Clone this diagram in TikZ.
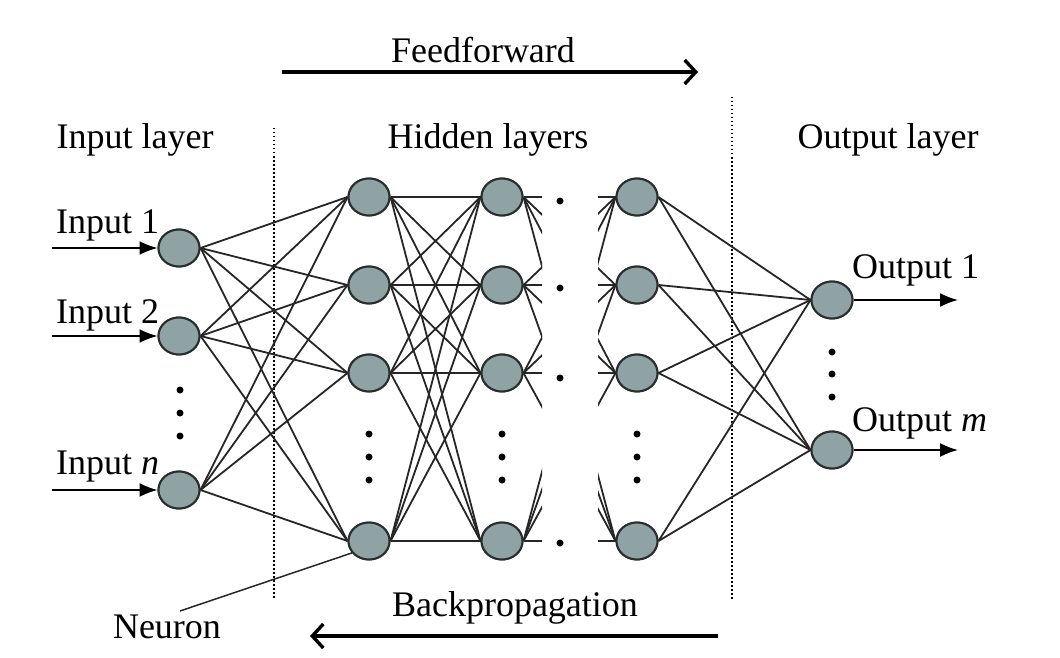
\documentclass[tikz,border=0pt]{standalone}
\usepackage{fontspec}
\setmainfont{Liberation Serif}
\usetikzlibrary{shapes.geometric,arrows.meta}
\definecolor{nfill}{RGB}{143,163,165}
\definecolor{nline}{RGB}{40,45,45}
\begin{document}
\begin{tikzpicture}[x=1pt,y=-1pt,
  neuron/.style={ellipse,draw=nline,line width=2pt,fill=nfill,minimum width=41pt,minimum height=37pt,inner sep=0pt},
  conn/.style={line width=1.8pt,draw=black!85},
  lbl/.style={font=\fontsize{36}{40}\selectfont,inner sep=0pt},
  dotc/.style={circle,fill=black,inner sep=0pt,minimum size=7pt},
  sepline/.style={line width=1.3pt,dash pattern=on 1.5pt off 2.5pt},
  bigarrow/.style={line width=3.4pt,-{Straight Barb[length=11pt,width=24pt]}},
  inarrow/.style={line width=1.8pt,-{Latex[length=18pt,width=14pt]}}]
\useasboundingbox (0,0) rectangle (1060,658);
% separators
\draw[sepline] (274,128) -- (274,600);
\draw[sepline] (732,97) -- (732,600);
% nodes
\node[neuron] (i1) at (179,248) {};
\node[neuron] (i2) at (179,336) {};
\node[neuron] (i3) at (179,490) {};
\foreach \k/\y in {1/197,2/285,3/373,4/541}{
  \node[neuron] (a\k) at (369,\y) {};
  \node[neuron] (b\k) at (502,\y) {};
  \node[neuron] (c\k) at (637,\y) {};
}
\node[neuron] (o1) at (832,300) {};
\node[neuron] (o2) at (832,450) {};
% input -> hidden 1
\foreach \i in {1,2,3}{\foreach \j in {1,2,3,4}{\draw[conn] (i\i.east) -- (a\j.west);}}
% hidden 1 -> hidden 2
\foreach \i in {1,2,3,4}{\foreach \j in {1,2,3,4}{\draw[conn] (a\i.east) -- (b\j.west);}}
% hidden 2 -> hidden 3 (interrupted)
\begin{scope}
  \clip (0,0) rectangle (542,658);
  \foreach \i in {1,2,3,4}{\foreach \j in {1,2,3,4}{\draw[conn] (b\i.east) -- (c\j.west);}}
\end{scope}
\begin{scope}
  \clip (598,0) rectangle (1060,658);
  \foreach \i in {1,2,3,4}{\foreach \j in {1,2,3,4}{\draw[conn] (b\i.east) -- (c\j.west);}}
\end{scope}
% hidden 3 -> output
\foreach \i in {1,2,3,4}{\foreach \j in {1,2}{\draw[conn] (c\i.east) -- (o\j.west);}}
% redraw nodes on top
\foreach \n in {i1,i2,i3,a1,a2,a3,a4,b1,b2,b3,b4,c1,c2,c3,c4,o1,o2}{
  \node[neuron] at (\n.center) {};
}
% dots
\foreach \y [count=\q] in {201,288,378,543}{\node[dotc] (m\q) at (560,\y) {};}
\foreach \y [count=\q] in {390,413,436}{\node[dotc] (di\q) at (180,\y) {};}
\foreach \y [count=\q] in {434,457,480}{
  \node[dotc] (da\q) at (369,\y) {};
  \node[dotc] (db\q) at (502,\y) {};
  \node[dotc] (dc\q) at (637,\y) {};
}
\foreach \y [count=\q] in {352,374,397}{\node[dotc] (do\q) at (832,\y) {};}
% labels
\node[lbl] (tin) at (135,140) {Input layer};
\node[lbl] (thid) at (488,140) {Hidden layers};
\node[lbl] (tout) at (888,140) {Output layer};
\node[lbl] (tff) at (483,50) {Feedforward};
\node[lbl] (tbp) at (515,608) {Backpropagation};
\node[lbl] (tne) at (167,627) {Neuron};
\node[lbl,anchor=west] (l1) at (56,225) {Input 1};
\node[lbl,anchor=west] (l2) at (56,315) {Input 2};
\node[lbl,anchor=west] (l3) at (56,467) {Input \textit{n}};
\node[lbl,anchor=west] (lo1) at (852,270) {Output 1};
\node[lbl,anchor=west] (lo2) at (852,423) {Output \textit{m}};
% input / output arrows
\coordinate (s1) at (52,248);
\coordinate (s2) at (52,336);
\coordinate (s3) at (52,490);
\draw[inarrow] (s1) -- (i1.west);
\draw[inarrow] (s2) -- (i2.west);
\draw[inarrow] (s3) -- (i3.west);
\coordinate (e1) at (958,300);
\coordinate (e2) at (958,450);
\draw[inarrow] (o1.east) -- (e1);
\draw[inarrow] (o2.east) -- (e2);
% big arrows
\coordinate (ffa) at (282,72);
\coordinate (ffb) at (698,72);
\draw[bigarrow] (ffa) -- (ffb);
\coordinate (bpa) at (718,636);
\coordinate (bpb) at (310,636);
\draw[bigarrow] (bpa) -- (bpb);
% neuron pointer
\coordinate (np) at (180,611);
\draw[conn,line width=1.5pt] (np) -- (a4.215);
\end{tikzpicture}
\end{document}
